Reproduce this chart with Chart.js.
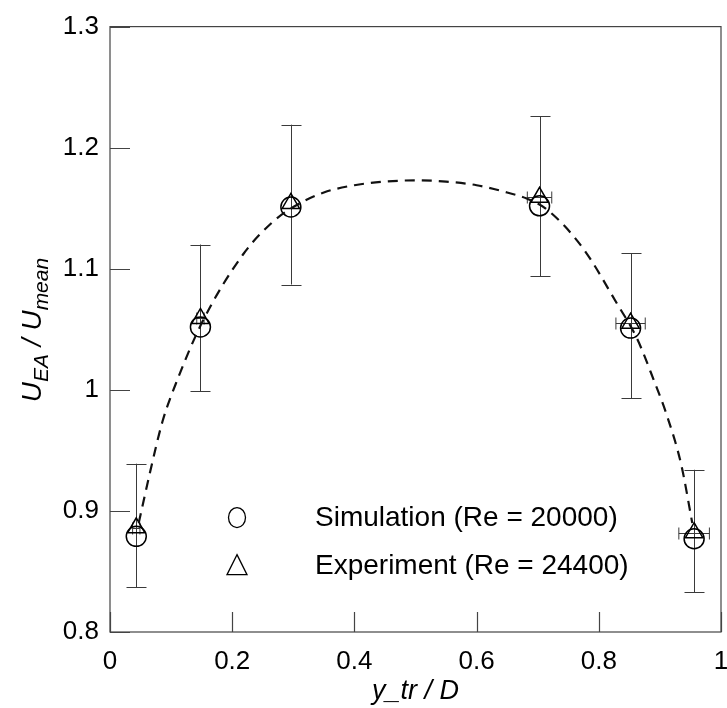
<!DOCTYPE html>
<html>
<head>
<meta charset="utf-8">
<script src="https://cdn.jsdelivr.net/npm/chart.js@4.4.0/dist/chart.umd.min.js"></script>
<style>
  html, body { margin: 0; padding: 0; background: #fff; }
</style>
</head>
<body>
<canvas id="CHART" width="727" height="708"></canvas>
<script>
// DATA

// measurement stations across the pipe
const xPos = [0.043, 0.148, 0.296, 0.703, 0.852, 0.956];
// simulation (circles)
const simValues = [0.879, 1.052, 1.151, 1.152, 1.051, 0.877];
// experiment (triangles) with error bars
const expValues = [0.886, 1.059, 1.154, 1.159, 1.055, 0.882];
const expLow = [0.837, 0.999, 1.087, 1.094, 0.993, 0.833];
const expHigh = [0.939, 1.120, 1.219, 1.226, 1.113, 0.934];
const expXErr = [0.006, 0.006, 0, 0.02, 0.024, 0.025];
// dashed fit curve
const fitX = [0.047, 0.066, 0.086, 0.11, 0.152, 0.218, 0.267, 0.30, 0.35, 0.40, 0.45, 0.50, 0.55, 0.60, 0.65, 0.682, 0.715, 0.774, 0.83, 0.862, 0.89, 0.912, 0.935, 0.953];
const fitY = [0.89, 0.933, 0.974, 1.008, 1.057, 1.112, 1.139, 1.151, 1.163, 1.169, 1.172, 1.173, 1.172, 1.169, 1.163, 1.158, 1.149, 1.117, 1.071, 1.043, 1.008, 0.978, 0.938, 0.89];

const xTicks = [0, 0.2, 0.4, 0.6, 0.8, 1];
const yTicks = [0.8, 0.9, 1, 1.1, 1.2, 1.3];

const simLabel = "Simulation (Re = 20000)";
const expLabel = "Experiment (Re = 24400)";

const FONT = '"Liberation Sans", Arial, sans-serif';

const toPoints = (xs, ys) => xs.map((x, i) => ({ x: x, y: ys[i] }));

// frame, inward ticks, error bars, legend and axis titles
const decorations = {
    id: "decorations",
    beforeDatasetsDraw(chart) {
        const ctx = chart.ctx;
        const xs = chart.scales.x;
        const ys = chart.scales.y;
        ctx.save();
        ctx.strokeStyle = "#3a3a3a";
        ctx.lineWidth = 1;
        for (let i = 0; i < xPos.length; i++) {
            const px = Math.round(xs.getPixelForValue(xPos[i])) + 0.5;
            const top = ys.getPixelForValue(expHigh[i]);
            const bot = ys.getPixelForValue(expLow[i]);
            ctx.beginPath();
            ctx.moveTo(px, top);
            ctx.lineTo(px, bot);
            ctx.moveTo(px - 10, Math.round(top) + 0.5);
            ctx.lineTo(px + 10, Math.round(top) + 0.5);
            ctx.moveTo(px - 10, Math.round(bot) + 0.5);
            ctx.lineTo(px + 10, Math.round(bot) + 0.5);
            if (expXErr[i] > 0) {
                const py = Math.round(ys.getPixelForValue(expValues[i])) + 0.5;
                const l = xs.getPixelForValue(xPos[i] - expXErr[i]);
                const r = xs.getPixelForValue(xPos[i] + expXErr[i]);
                ctx.moveTo(l, py);
                ctx.lineTo(r, py);
                ctx.moveTo(l, py - 6);
                ctx.lineTo(l, py + 6);
                ctx.moveTo(r, py - 6);
                ctx.lineTo(r, py + 6);
            }
            ctx.stroke();
        }
        ctx.restore();
    },
    afterDraw(chart) {
        const ctx = chart.ctx;
        const area = chart.chartArea;
        const xs = chart.scales.x;
        const ys = chart.scales.y;
        ctx.save();

        // box
        ctx.strokeStyle = "#444";
        ctx.lineWidth = 1.2;
        ctx.strokeRect(area.left, area.top, area.right - area.left, area.bottom - area.top);

        // inward ticks on left and bottom
        ctx.beginPath();
        yTicks.forEach(v => {
            const py = Math.round(ys.getPixelForValue(v)) + 0.5;
            ctx.moveTo(area.left, py);
            ctx.lineTo(area.left + 20, py);
        });
        xTicks.forEach(v => {
            const px = Math.round(xs.getPixelForValue(v)) + 0.5;
            ctx.moveTo(px, area.bottom);
            ctx.lineTo(px, area.bottom - 20);
        });
        ctx.stroke();

        // legend
        const lx = area.left + 127;
        const items = [chart.data.datasets[1], chart.data.datasets[2]];
        ctx.fillStyle = "#000";
        ctx.font = "28px " + FONT;
        ctx.textAlign = "left";
        ctx.textBaseline = "middle";
        items.forEach((ds, i) => {
            const ly = area.top + 491 + i * 48;
            ctx.strokeStyle = "#000";
            ctx.lineWidth = 1.3;
            ctx.beginPath();
            if (ds.pointStyle === "circle") {
                ctx.ellipse(lx, ly, 8.5, 10, 0, 0, Math.PI * 2);
            } else {
                ctx.moveTo(lx, ly - 11);
                ctx.lineTo(lx + 10, ly + 9);
                ctx.lineTo(lx - 10, ly + 9);
                ctx.closePath();
            }
            ctx.stroke();
            ctx.fillText(ds.label, lx + 78, ly + 1);
        });

        // x title
        ctx.font = "italic 27px " + FONT;
        ctx.textAlign = "center";
        ctx.fillText("y_tr / D", (area.left + area.right) / 2, 691);

        // y title with subscripts
        const parts = [
            { t: "U", s: 28, dy: 0 },
            { t: "EA", s: 21, dy: 7 },
            { t: " / U", s: 28, dy: 0 },
            { t: "mean", s: 21, dy: 7 }
        ];
        let total = 0;
        parts.forEach(p => {
            ctx.font = "italic " + p.s + "px " + FONT;
            p.w = ctx.measureText(p.t).width;
            total += p.w;
        });
        ctx.translate(32, 330);
        ctx.rotate(-Math.PI / 2);
        ctx.textAlign = "left";
        ctx.textBaseline = "alphabetic";
        let cx = -total / 2;
        parts.forEach(p => {
            ctx.font = "italic " + p.s + "px " + FONT;
            ctx.fillText(p.t, cx, 9 + p.dy);
            cx += p.w;
        });
        ctx.restore();
    }
};

const chart = new Chart(document.getElementById("CHART"), {
    type: "scatter",
    data: {
        datasets: [{
            label: "fit",
            data: toPoints(fitX, fitY),
            showLine: true,
            borderColor: "#111",
            borderWidth: 2.2,
            borderDash: [10, 7],
            cubicInterpolationMode: "monotone",
            pointRadius: 0,
            fill: false
        }, {
            label: simLabel,
            data: toPoints(xPos, simValues),
            pointStyle: "circle",
            pointRadius: 10,
            borderColor: "#000",
            borderWidth: 1.5,
            backgroundColor: "rgba(0,0,0,0)"
        }, {
            label: expLabel,
            data: toPoints(xPos, expValues),
            pointStyle: "triangle",
            pointRadius: 10,
            borderColor: "#000",
            borderWidth: 1.5,
            backgroundColor: "rgba(0,0,0,0)"
        }]
    },
    options: {
        responsive: false,
        animation: false,
        layout: { autoPadding: false, padding: { top: 24, right: 6, left: 0, bottom: 0 } },
        plugins: { legend: { display: false }, tooltip: { enabled: false } },
        scales: {
            x: {
                type: "linear",
                min: 0,
                max: 1,
                afterBuildTicks: s => { s.ticks = xTicks.map(v => ({ value: v })); },
                afterFit: s => { s.height = 76; s.paddingRight = 0; s.paddingLeft = 0; },
                grid: { display: false, drawTicks: false },
                border: { display: false },
                ticks: {
                    padding: 14,
                    color: "#000",
                    maxRotation: 0,
                    font: { family: FONT, size: 26 },
                    callback: v => String(+v.toFixed(2))
                }
            },
            y: {
                type: "linear",
                min: 0.8,
                max: 1.3,
                afterBuildTicks: s => { s.ticks = yTicks.map(v => ({ value: v })); },
                afterFit: s => { s.width = 110; },
                grid: { display: false, drawTicks: false },
                border: { display: false },
                ticks: {
                    padding: 11,
                    color: "#000",
                    font: { family: FONT, size: 26 },
                    callback: v => String(+v.toFixed(2))
                }
            }
        }
    },
    plugins: [decorations]
});
</script>
</body>
</html>
